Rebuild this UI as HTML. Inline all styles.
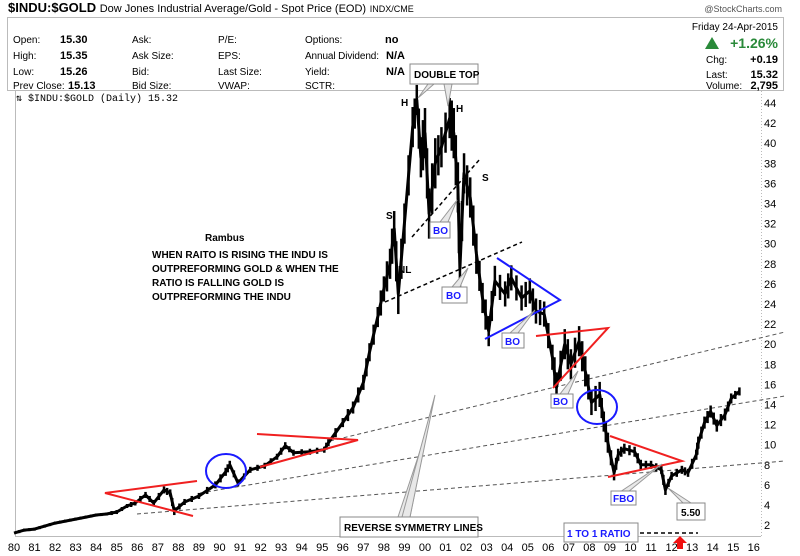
<!DOCTYPE html>
<html><head><meta charset="utf-8">
<style>
body{margin:0;background:#fff;}
svg{display:block;font-family:"Liberation Sans",Arial,sans-serif;}
.hl{font-size:10px;fill:#000;}
.hv{font-size:11px;font-weight:bold;fill:#000;}
.ax{font-size:11px;fill:#000;}
.note{font-size:10px;font-weight:bold;fill:#000;}
.bo{font-size:10px;font-weight:bold;fill:#1a1aff;}
</style></head>
<body>
<svg id="chart" width="800" height="556" viewBox="0 0 800 556">
  <text x="8" y="12" font-size="13" font-weight="bold">$INDU:$GOLD <tspan font-size="11" font-weight="normal">Dow Jones Industrial Average/Gold - Spot Price (EOD)</tspan> <tspan font-size="9" font-weight="normal">INDX/CME</tspan></text>
  <text x="782" y="12" font-size="9" fill="#555" text-anchor="end">@StockCharts.com</text>
  <rect x="7.5" y="17.5" width="776" height="73" fill="#fff" stroke="#bbb"/>
  <g>
    <text class="hl" x="13" y="43">Open:</text><text class="hv" x="60" y="43">15.30</text>
    <text class="hl" x="13" y="59">High:</text><text class="hv" x="60" y="59">15.35</text>
    <text class="hl" x="13" y="75">Low:</text><text class="hv" x="60" y="75">15.26</text>
    <text class="hl" x="13" y="89">Prev Close:</text><text class="hv" x="68" y="89">15.13</text>
    <text class="hl" x="132" y="43">Ask:</text><text class="hl" x="132" y="59">Ask Size:</text>
    <text class="hl" x="132" y="75">Bid:</text><text class="hl" x="132" y="89">Bid Size:</text>
    <text class="hl" x="218" y="43">P/E:</text><text class="hl" x="218" y="59">EPS:</text>
    <text class="hl" x="218" y="75">Last Size:</text><text class="hl" x="218" y="89">VWAP:</text>
    <text class="hl" x="305" y="43">Options:</text><text class="hv" x="385" y="43">no</text>
    <text class="hl" x="305" y="59" textLength="74">Annual Dividend:</text><text class="hv" x="386" y="59">N/A</text>
    <text class="hl" x="305" y="75">Yield:</text><text class="hv" x="386" y="75">N/A</text>
    <text class="hl" x="305" y="89">SCTR:</text>
    <text class="hl" x="778" y="30" text-anchor="end">Friday  24-Apr-2015</text>
    <polygon points="705,49 712,37 719,49" fill="#2a8a3a"/>
    <text x="778" y="48" text-anchor="end" font-size="14" font-weight="bold" fill="#2a8a3a">+1.26%</text>
    <text class="hl" x="706" y="63">Chg:</text><text class="hv" x="778" y="63" text-anchor="end">+0.19</text>
    <text class="hl" x="706" y="78">Last:</text><text class="hv" x="778" y="78" text-anchor="end">15.32</text>
    <text class="hl" x="706" y="89">Volume:</text><text class="hv" x="778" y="89" text-anchor="end">2,795</text>
  </g>
  <text x="16" y="101" font-size="10" font-family="Liberation Mono, monospace">⇅ $INDU:$GOLD (Daily) 15.32</text>
  <line x1="15.5" y1="91" x2="15.5" y2="536" stroke="#bbb"/>
  <line x1="15" y1="536.5" x2="761" y2="536.5" stroke="#bbb"/>
  <line x1="761.5" y1="91" x2="761.5" y2="536" stroke="#bbb" stroke-dasharray="1,2"/>
  <g id="xticks"></g>
  <g id="yticks"></g>

  <g fill="none" stroke-dasharray="4,3">
    <line x1="137" y1="514" x2="785" y2="461" stroke="#555"/>
    <line x1="200" y1="493" x2="785" y2="396" stroke="#555"/>
    <line x1="330" y1="441" x2="785" y2="332" stroke="#555"/>
    <line x1="385" y1="302" x2="522" y2="242" stroke="#000" stroke-width="1.5"/>
    <line x1="412" y1="237" x2="480" y2="159" stroke="#000" stroke-width="1.5"/>
    <line x1="640" y1="533" x2="698" y2="533" stroke="#000" stroke-width="1.5"/>
  </g>

  <g id="bars" stroke="#000" stroke-width="2.5"></g>
  <path id="series" fill="none" stroke="#000" stroke-width="3" stroke-linejoin="round"/>

  <g fill="none" stroke-width="2">
    <polyline points="197,481 105,493 193,516" stroke="#f02020"/>
    <polyline points="257,434 358,440 260,467" stroke="#f02020"/>
    <polyline points="497,258 560,300 485,339" stroke="#1a1aff"/>
    <polyline points="536,336 608,328 553,388" stroke="#f02020"/>
    <polyline points="610,436 682,461 608,477" stroke="#f02020"/>
    <ellipse cx="226" cy="471" rx="20" ry="17" stroke="#1a1aff"/>
    <ellipse cx="597" cy="407" rx="20" ry="17" stroke="#1a1aff"/>
  </g>

  <g fill="#e8e8e8" stroke="#999" stroke-width="1">
    <polygon points="428,84 434,84 418,98"/>
    <polygon points="444,84 452,84 448,106"/>
    <polygon points="440,222 448,222 457,200"/>
    <polygon points="452,287 460,287 468,268"/>
    <polygon points="510,333 518,333 535,310"/>
    <polygon points="560,394 568,394 578,371"/>
    <polygon points="620,492 628,492 662,464"/>
    <polygon points="683,503 691,503 668,488"/>
    <polygon points="398,517 410,517 428,427"/>
    <polygon points="402,517 410,517 435,395"/>
  </g>
  <g fill="#fff" stroke="#888">
    <rect x="410" y="64" width="68" height="20"/>
    <rect x="430" y="222" width="20" height="16"/>
    <rect x="442" y="287" width="25" height="16"/>
    <rect x="502" y="333" width="22" height="15"/>
    <rect x="551" y="394" width="22" height="14"/>
    <rect x="611" y="491" width="25" height="14"/>
    <rect x="677" y="503" width="28" height="17"/>
    <rect x="340" y="517" width="138" height="20"/>
    <rect x="564" y="523" width="74" height="19"/>
  </g>
  <g>
    <text class="note" x="414" y="78">DOUBLE TOP</text>
    <text class="bo" x="433" y="234">BO</text>
    <text class="bo" x="446" y="299">BO</text>
    <text class="bo" x="505" y="345">BO</text>
    <text class="bo" x="553" y="405">BO</text>
    <text class="bo" x="613" y="502">FBO</text>
    <text class="note" x="681" y="516">5.50</text>
    <text class="note" x="344" y="531">REVERSE SYMMETRY LINES</text>
    <text class="bo" x="567" y="537" font-size="11">1 TO 1 RATIO</text>
    <text class="note" x="401" y="106">H</text>
    <text class="note" x="456" y="112">H</text>
    <text class="note" x="386" y="219">S</text>
    <text class="note" x="482" y="181">S</text>
    <text class="note" x="398" y="273">NL</text>
    <text class="note" x="205" y="241">Rambus</text>
    <text class="note" x="152" y="258">WHEN RAITO IS RISING THE INDU IS</text>
    <text class="note" x="152" y="272">OUTPREFORMING GOLD &amp; WHEN THE</text>
    <text class="note" x="152" y="286">RATIO IS FALLING GOLD IS</text>
    <text class="note" x="152" y="300">OUTPREFORMING THE INDU</text>
    <polygon points="680,536 673,543 677,543 677,549 683,549 683,543 687,543" fill="#f01010"/>
  </g>
</svg>
<script>
const dates = [1980.0,1980.5,1981.0,1981.5,1982.0,1982.5,1983.0,1983.5,1984.0,1984.5,
1985.0,1985.5,1985.9,1986.4,1986.8,1987.3,1987.6,1987.8,1988.3,1989.0,
1989.8,1990.3,1990.5,1990.9,1991.5,1992.2,1992.8,1993.2,1993.6,1994.4,
1995.1,1995.3,1996.0,1996.5,1997.0,1997.3,1997.7,1998.0,1998.3,1998.5,
1998.7,1999.0,1999.4,1999.6,1999.8,2000.0,2000.2,2000.5,2000.8,2001.2,
2001.4,2001.6,2001.7,2001.9,2002.2,2002.5,2002.8,2003.1,2003.4,2003.9,
2004.2,2004.7,2005.1,2005.4,2005.8,2006.2,2006.4,2006.8,2007.1,2007.5,
2007.8,2008.1,2008.5,2008.7,2008.9,2009.2,2009.4,2009.7,2010.2,2010.5,
2011.0,2011.5,2011.7,2012.0,2012.5,2012.8,2013.2,2013.3,2013.6,2013.9,
2014.2,2014.6,2014.9,2015.3];
const ratio = [1.2,1.5,1.6,1.9,2.2,2.4,2.6,2.8,3.0,3.1,
3.3,3.9,4.2,5.0,4.2,5.5,5.2,3.4,4.3,4.9,
6.0,7.3,8.0,6.2,7.5,7.9,8.8,9.9,9.2,9.3,
9.5,10.2,12.2,13.7,16.2,19.2,22.7,25.5,28,31.5,
25,32,41.6,44.3,38.6,41,33,38,39.6,42.5,
41,35.6,27.5,37,34.6,29,24.6,21.3,26.3,25,
26.6,24.6,25.3,23.3,23,18.7,15.7,20,18,20.3,
17.3,14.2,15,12.3,10.2,7.2,9,9.6,9.3,8,
8,7.5,5.5,6.9,7.5,7.2,9,10.2,12.2,13.3,
11.9,13,14.6,15.3];
// trading range (high-low spread) around each point
const spread = [0.3,0.3,0.3,0.3,0.3,0.3,0.3,0.3,0.3,0.3,
0.4,0.4,0.5,0.6,0.6,0.7,0.7,0.8,0.6,0.6,
0.7,0.8,0.8,0.7,0.6,0.6,0.6,0.7,0.6,0.6,
0.6,0.7,0.9,1.2,1.5,1.8,2,2.5,3,3.5,
4,4,4,3,4,5,5,5,4,4,
5,5,5,4,4,4,3,3,3,2.5,
2.5,2.5,2.5,2.5,2.5,2.5,3,3,3,3,
3,2.5,2.5,2,2,1.5,1.2,1,1,1,
0.8,0.8,1,0.8,0.8,0.8,1,1.2,1.2,1.2,
1.2,1.2,1,0.8];
const xTickLabels = ["80","81","82","83","84","85","86","87","88","89","90","91","92","93","94","95","96","97","98","99","00","01","02","03","04","05","06","07","08","09","10","11","12","13","14","15","16"];
const yTickValues = [2,4,6,8,10,12,14,16,18,20,22,24,26,28,30,32,34,36,38,40,42,44];

function xScale(yr){ return 14 + (yr - 1980) * 20.55; }
function yScale(v){ return 103 + (44 - v) * 10.05; }

const NS = "http://www.w3.org/2000/svg";
const xg = document.getElementById('xticks');
xTickLabels.forEach(function(lab, i){
  const t = document.createElementNS(NS, 'text');
  t.setAttribute('x', xScale(1980 + i));
  t.setAttribute('y', 551);
  t.setAttribute('text-anchor', 'middle');
  t.setAttribute('class', 'ax');
  
  
  t.textContent = lab;
  xg.appendChild(t);
});
const yg = document.getElementById('yticks');
yTickValues.forEach(function(v){
  const t = document.createElementNS(NS, 'text');
  t.setAttribute('x', 764);
  t.setAttribute('y', yScale(v) + 4);
  t.setAttribute('class', 'ax');
  
  
  t.textContent = v;
  yg.appendChild(t);
});
const n = Math.min(dates.length, ratio.length, spread.length);
const bg = document.getElementById('bars');
let d = '';
for (let i = 0; i < n; i++) {
  d += (i ? 'L' : 'M') + xScale(dates[i]).toFixed(1) + ',' + yScale(ratio[i]).toFixed(1);
  if (i > 0) {
    // range bars at this point and midway to previous
    const pts = [[dates[i], ratio[i]], [(dates[i] + dates[i-1]) / 2, (ratio[i] + ratio[i-1]) / 2]];
    pts.forEach(function(p){
      const l = document.createElementNS(NS, 'line');
      l.setAttribute('x1', xScale(p[0]));
      l.setAttribute('x2', xScale(p[0]));
      l.setAttribute('y1', yScale(p[1] + spread[i] / 2));
      l.setAttribute('y2', yScale(p[1] - spread[i] / 2));
      
      
      bg.appendChild(l);
    });
  }
}
document.getElementById('series').setAttribute('d', d);
</script>
</body></html>
